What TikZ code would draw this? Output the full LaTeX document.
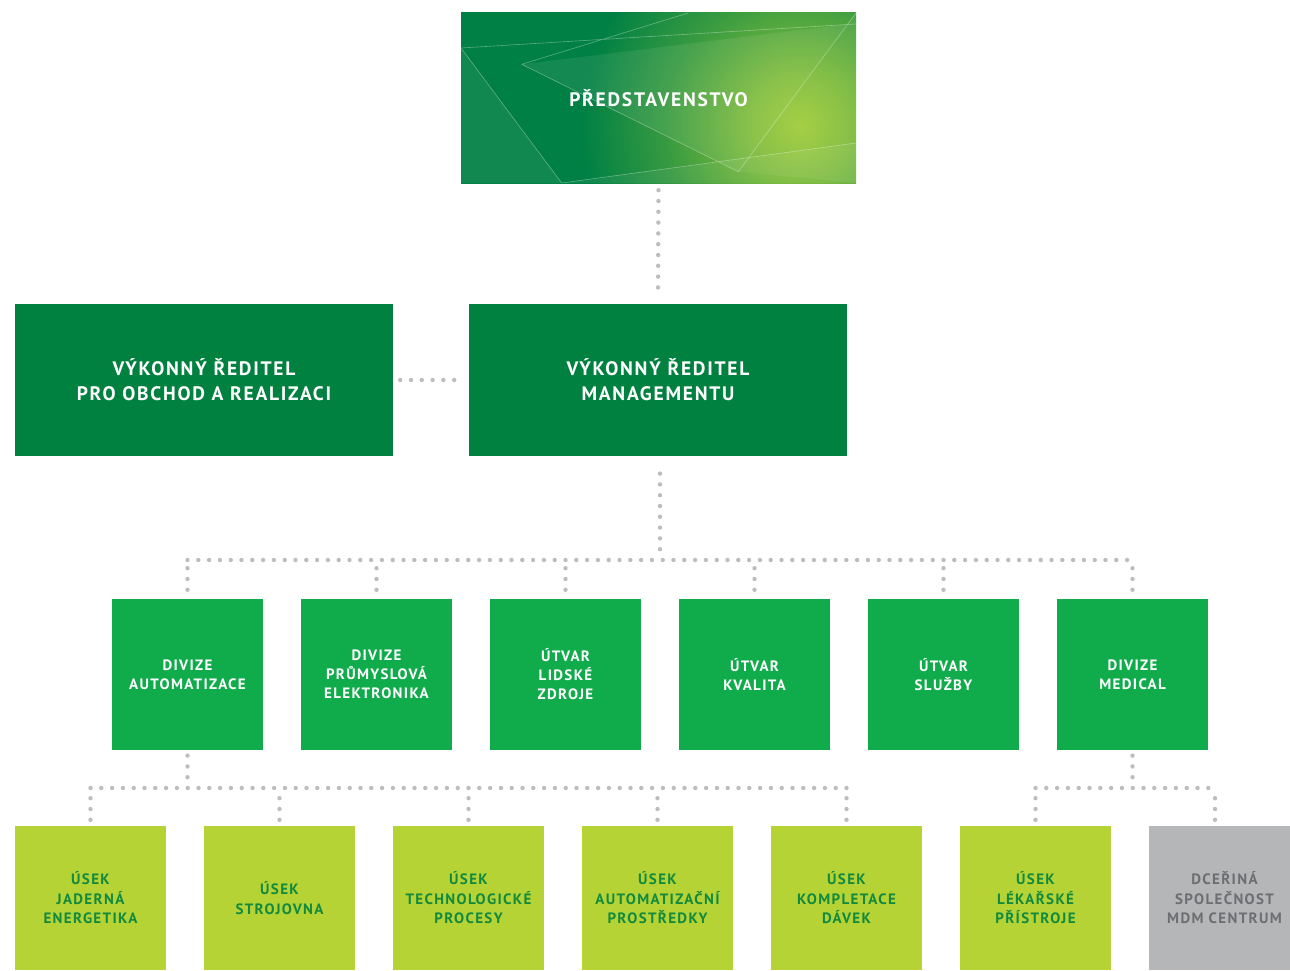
\documentclass[tikz,border=0pt]{standalone}
\usepackage{fontspec}
\setmainfont{PT Sans}
\newfontfamily\dinfont[LetterSpace=9, BoldFont={PT Sans Bold}]{PT Sans}
\usetikzlibrary{positioning}

\definecolor{boardgreen}{RGB}{0,128,68}
\definecolor{glow}{RGB}{160,204,58}
\definecolor{darkgreen}{RGB}{0,129,63}
\definecolor{midgreen}{RGB}{16,172,75}
\definecolor{lime}{RGB}{181,211,52}
\definecolor{limetext}{RGB}{18,138,62}
\definecolor{greybox}{RGB}{181,182,184}
\definecolor{greytext}{RGB}{109,110,113}
\definecolor{dotgrey}{RGB}{188,189,191}

\pgfdeclareradialshading{boardglow}{\pgfpoint{0bp}{0bp}}{color(0bp)=(glow); color(3bp)=(glow!80!boardgreen); color(8bp)=(glow!35!boardgreen); color(13bp)=(boardgreen); color(50bp)=(boardgreen)}

\tikzstyle{box}=[inner sep=0pt, align=center, font=\dinfont\bfseries]
\tikzstyle{board}=[box, minimum width=395pt, minimum height=170pt, text=white, font=\dinfont\bfseries\fontsize{19.5}{24}\selectfont]
\tikzstyle{exec}=[box, fill=darkgreen, text=white, minimum width=378pt, minimum height=152pt, font=\dinfont\bfseries\fontsize{19.5}{25}\selectfont]
\tikzstyle{divize}=[box, fill=midgreen, text=white, minimum width=151pt, minimum height=151pt, font=\dinfont\bfseries\fontsize{15}{19}\selectfont]
\tikzstyle{usek}=[box, fill=lime, text=limetext, minimum width=151pt, minimum height=144pt, font=\dinfont\bfseries\fontsize{15}{19.5}\selectfont]
\tikzstyle{dcera}=[usek, fill=greybox, text=greytext]
\tikzstyle{link}=[draw=dotgrey, line width=4.4pt, line cap=round, dash pattern=on 0pt off 10.8pt]

\begin{document}
\begin{tikzpicture}[x=1pt, y=-1pt]
	\useasboundingbox (0,0) rectangle (1290,971);
	\clip (0,0) rectangle (1290,971);
	% board background
	\begin{scope}
		\clip (461,13) rectangle (856,183);
		\shade[shading=boardglow] (800,125) circle (420pt);
		\fill[white, opacity=0.08] (521.7,64.3) -- (846.7,24.3) -- (738.3,171.7) -- cycle;
		\fill[white, opacity=0.07] (461,48) -- (561.7,183) -- (461,183) -- cycle;
		\fill[white, opacity=0.06] (561.7,183) -- (856,143) -- (856,183) -- cycle;
		\fill[white, opacity=0.06] (846.7,24.3) -- (856,13) -- (856,183) -- (738.3,171.7) -- cycle;
		\draw[white, opacity=0.35, line width=0.6pt]
			(461,48) -- (856,24)
			(521.7,64.3) -- (688.3,13)
			(521.7,64.3) -- (738.3,171.7) -- (856,13)
			(461,48) -- (561.7,183) -- (856,143);
	\end{scope}
	\node[board] (board) at (658.5,98) {PŘEDSTAVENSTVO};
	\node[exec] (sales) at (204,380) {VÝKONNÝ ŘEDITEL\\PRO OBCHOD A REALIZACI};
	\node[exec] (mgmt) at (658,380) {VÝKONNÝ ŘEDITEL\\MANAGEMENTU};
	\foreach \x/\name/\txt in {187.5/aut/{DIVIZE\\AUTOMATIZACE}, 376.5/elek/{DIVIZE\\PRŮMYSLOVÁ\\ELEKTRONIKA}, 565.5/lidi/{ÚTVAR\\LIDSKÉ\\ZDROJE}, 754.5/kval/{ÚTVAR\\KVALITA}, 943.5/sluz/{ÚTVAR\\SLUŽBY}, 1132.5/med/{DIVIZE\\MEDICAL}}
		\node[divize] (\name) at (\x,674.5) {\txt};
	\foreach \x/\name/\txt in {90.5/jad/{ÚSEK\\JADERNÁ\\ENERGETIKA}, 279.5/stroj/{ÚSEK\\STROJOVNA}, 468.5/tech/{ÚSEK\\TECHNOLOGICKÉ\\PROCESY}, 657.5/prost/{ÚSEK\\AUTOMATIZAČNÍ\\PROSTŘEDKY}, 846.5/kompl/{ÚSEK\\KOMPLETACE\\DÁVEK}, 1035.5/lek/{ÚSEK\\LÉKAŘSKÉ\\PŘÍSTROJE}}
		\node[usek] (\name) at (\x,898) {\txt};
	\node[dcera] (mdm) at (1224.5,898) {DCEŘINÁ\\SPOLEČNOST\\MDM CENTRUM};
	% connectors
	\coordinate (bus) at (0,560);
	\coordinate (bus2) at (0,788);
	\path[link, shorten <=7pt, shorten >=6pt] (board.south) -- (mgmt.north);
	\path[link, shorten <=7pt, shorten >=7pt] (sales.east) -- (mgmt.west);
	\path[link, shorten <=10.8pt, shorten >=8pt] ([xshift=2pt]mgmt.south |- bus) -- ([xshift=2pt]mgmt.south);
	\path[link] (aut.north |- bus) -- (med.north |- bus);
	\foreach \name in {aut, elek, lidi, kval, sluz, med}
		\path[link, shorten <=9pt] (\name.north) -- (\name.north |- bus);
	\path[link, shorten <=10.8pt, shorten >=4pt] (aut.south |- bus2) -- (aut.south);
	\path[link] (jad.north |- bus2) -- (kompl.north |- bus2);
	\foreach \name in {jad, stroj, tech, prost, kompl, lek}
		\path[link, shorten <=6pt] (\name.north) -- (\name.north |- bus2);
	\path[link, shorten <=10.8pt, shorten >=4pt] (med.south |- bus2) -- (med.south);
	\path[link] (lek.north |- bus2) -- ([xshift=-9.5pt]mdm.north |- bus2);
	\path[link, shorten <=6pt] ([xshift=-9.5pt]mdm.north) -- ([xshift=-9.5pt]mdm.north |- bus2);
\end{tikzpicture}
\end{document}
